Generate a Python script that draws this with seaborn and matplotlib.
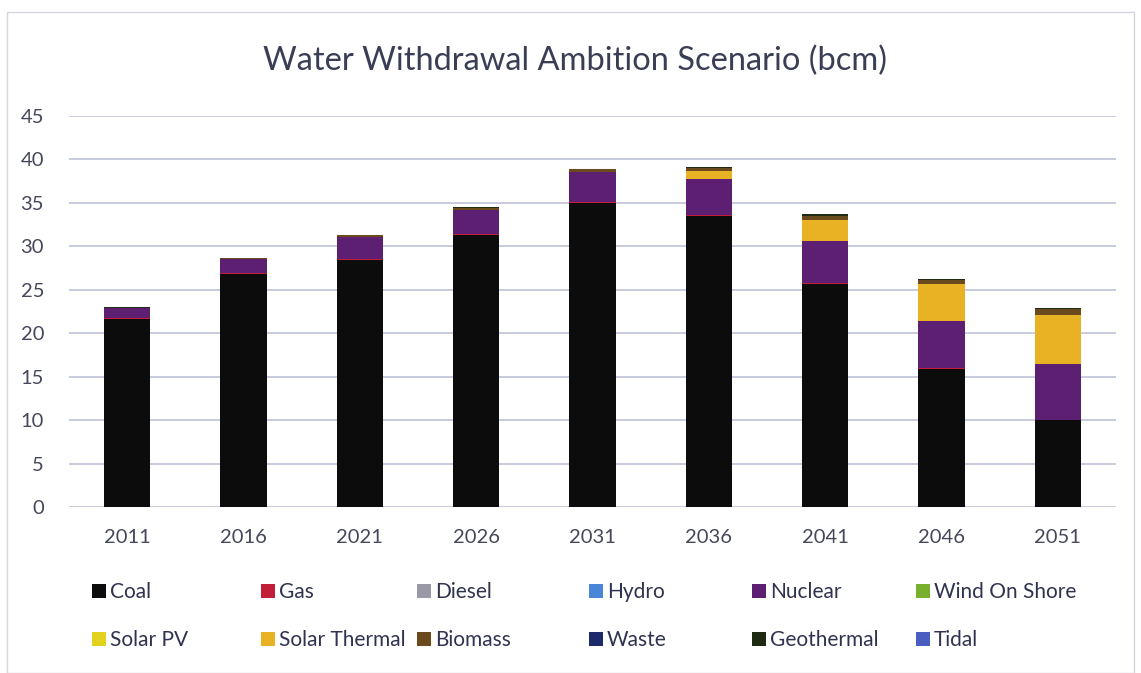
import numpy as np
import pandas as pd
import matplotlib.pyplot as plt
import seaborn as sns
from matplotlib.patches import Patch, Rectangle

years = ["2011", "2016", "2021", "2026", "2031", "2036", "2041", "2046", "2051"]

# values per technology (bcm)
coal = [21.6, 26.8, 28.4, 31.3, 35.0, 33.5, 25.7, 15.9, 10.0]
gas = [0.2, 0.15, 0.1, 0.1, 0.1, 0.1, 0.1, 0.1, 0.05]
diesel = [0, 0, 0, 0, 0, 0, 0, 0, 0]
hydro = [0, 0, 0, 0, 0, 0, 0, 0, 0]
nuclear = [1.1, 1.6, 2.6, 2.8, 3.4, 4.2, 4.8, 5.4, 6.4]
wind_on_shore = [0, 0, 0, 0, 0, 0, 0, 0, 0]
solar_pv = [0, 0, 0, 0, 0, 0, 0, 0, 0]
solar_thermal = [0, 0, 0, 0, 0.05, 0.9, 2.4, 4.3, 5.6]
biomass = [0.05, 0.1, 0.15, 0.2, 0.3, 0.3, 0.5, 0.4, 0.7]
waste = [0, 0, 0, 0, 0, 0, 0, 0, 0]
geothermal = [0.05, 0.05, 0.05, 0.1, 0.1, 0.1, 0.2, 0.1, 0.1]
tidal = [0, 0, 0, 0, 0, 0, 0, 0, 0]

series_names = ["Coal", "Gas", "Diesel", "Hydro", "Nuclear", "Wind On Shore",
                "Solar PV", "Solar Thermal", "Biomass", "Waste", "Geothermal", "Tidal"]
series_values = [coal, gas, diesel, hydro, nuclear, wind_on_shore,
                 solar_pv, solar_thermal, biomass, waste, geothermal, tidal]
colors = ["#0c0c0c", "#c21e3a", "#9a9aa6", "#4a86d8", "#5c1f72", "#78b02e",
          "#e2d21e", "#e8b224", "#6b4a1e", "#1c2a6a", "#1f2a12", "#4a5ec0"]

df = pd.DataFrame(dict(zip(series_names, series_values)), index=years)
cum = df.cumsum(axis=1)

sns.set_style("white")
plt.rcParams["font.family"] = ["Lato", "DejaVu Sans"]

fig = plt.figure(figsize=(11.41, 6.73), dpi=100)
ax = fig.add_axes([0.0605, 0.2467, 0.9176, 0.581])

# draw cumulative totals from the top layer down so lower layers paint over
for name, col in reversed(list(zip(series_names, colors))):
    sns.barplot(x=years, y=cum[name].values, color=col, width=0.4,
                saturation=1, linewidth=0, edgecolor="none", ax=ax, zorder=3)

ax.set_ylim(0, 45)
ax.set_xlim(-0.5, len(years) - 0.5)
ax.set_yticks(np.arange(0, 46, 5))
ax.yaxis.grid(True, color="#b9bdd6", linewidth=1.1, zorder=0)
ax.set_axisbelow(True)
for s in ax.spines.values():
    s.set_visible(False)
ax.tick_params(axis="both", length=0, labelsize=14.5, labelcolor="#45475a")
ax.tick_params(axis="y", pad=18)
ax.tick_params(axis="x", pad=16)
ax.set_xlabel("")
ax.set_ylabel("")

fig.text(0.504, 0.91, "Water Withdrawal Ambition Scenario (bcm)", ha="center",
         va="center", fontsize=23.5, color="#3a3e55")

# legend: six columns of two rows, Excel style
handles = [Patch(facecolor=c, edgecolor="none") for c in colors]
col_x = [92, 261, 417, 589, 752, 916]
for i, x in enumerate(col_x):
    h = [handles[i], handles[i + 6]]
    lab = [series_names[i], series_names[i + 6]]
    fig.legend(h, lab, loc="upper left", bbox_to_anchor=(x / 1141, 1 - 582 / 673),
               frameon=False, fontsize=15, handlelength=0.65, handleheight=0.65,
               handletextpad=0.2, labelspacing=1.35, labelcolor="#303350",
               borderaxespad=0, borderpad=0)

fig.patches.append(Rectangle((7 / 1141, 0.0), 1 - 14 / 1141, 1 - 12 / 673,
                             transform=fig.transFigure, fill=False,
                             edgecolor="#d4d6e0", linewidth=1))

fig.savefig("out.png", dpi=100)
